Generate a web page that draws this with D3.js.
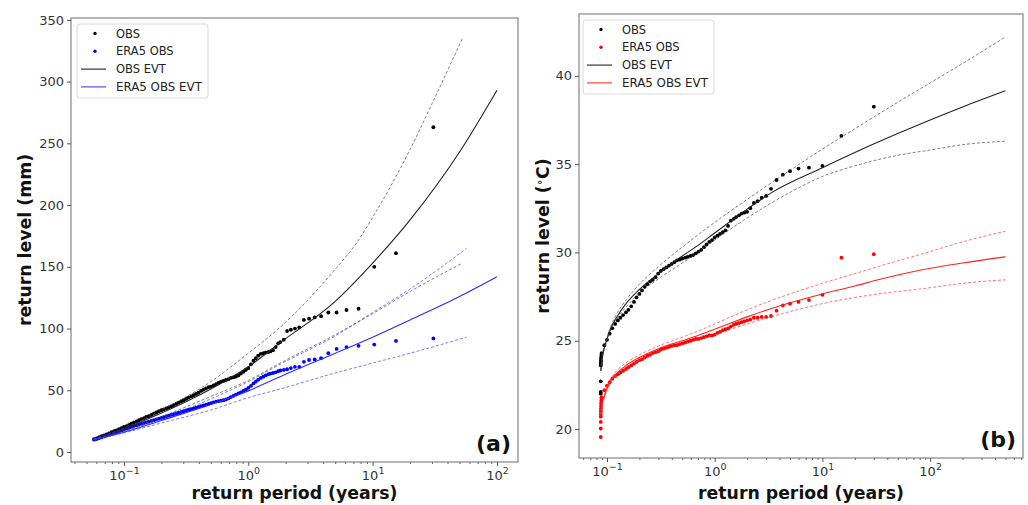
<!DOCTYPE html>
<html><head><meta charset="utf-8">
<script src="https://cdn.jsdelivr.net/npm/d3@7"></script>
<style>body{margin:0;background:#fff}svg{display:block}text{font-family:"DejaVu Sans",sans-serif}</style>
</head><body><svg id="c" width="1028" height="505"></svg>
<script>
// ---------------- Panel (a): precipitation return levels (mm) ----------------
const tA_dense = [0.0575,0.0603,0.0631,0.0661,0.0692,0.0724,0.0759,0.0794,0.0832,0.0871,0.0912,0.0955,
  0.1,0.105,0.110,0.115,0.120,0.126,0.132,0.138,0.145,0.151,0.158,0.166,0.174,0.182,0.191,0.200,0.209,0.219,0.229,0.240,
  0.251,0.263,0.275,0.288,0.302,0.316,0.331,0.347,0.363,0.380,0.398,0.417,0.437,0.457,0.479,0.501,0.525,0.550,0.575,0.603,
  0.631,0.661,0.692,0.724,0.759,0.794,0.832,0.871,0.912,0.955,1.0,1.05,1.10,1.15,1.20,1.26,1.32,1.38,1.45,1.51,1.58,1.66,1.74];
const obsA_dense = [10.5,11,12,12.8,13.5,14.3,15,16,16.8,17.5,18.5,19.3,
  20.3,21,22,23,23.8,24.8,25.7,26.7,27.5,28.5,
  29,30,31,32,33,33.8,34.6,35.3,36.2,37,
  38,39,40,41,42,43,44,45,46,47,
  48,49.5,50.5,51.5,52.5,53,54,55,56,57,
  57.5,58.3,59,60,60.5,61,62,63.5,65,66.5,
  68,71,74,76,78,79.5,80,80.5,81,81.5,82.5,85,88];
const eraA_dense = [10,10.5,11.2,11.9,12.6,13.3,14,14.7,15.4,16.1,16.8,17.5,
  18.2,18.9,19.6,20.3,21,21.6,22.2,22.8,23.4,24,
  24.6,25.2,25.8,26.4,27,27.6,28.2,28.8,29.4,30,
  30.6,31.2,31.8,32.4,33,33.6,34.2,34.8,35.4,36,
  36.6,37.2,37.8,38.4,39,39.6,40.2,40.8,41.2,41.6,
  42,42.5,43.5,44.5,45.5,46.5,47.5,48.3,49.5,50.5,
  52,53.5,55.5,57,58.5,60,61,62,63,63.5,64,64.5,65.5];
const tA_top = [30.8,15.4,10.3,7.7,6.16,5.13,4.4,3.85,3.42,3.08,2.8,2.57,2.37,2.2,2.05,1.93,1.81];
const obsA_top = [263,161,150,116,115,113,113,110,109,108,107,101,100,99,98,91,89];
const eraA_top = [92,90,87,86,85,83.5,80,76,75,74.5,73,69,69,68,67,66.5,66];

const tA_evt      = [0.057,0.1,0.2,0.5,1,1.8,5,10,20,50,100];
const obsEvtA     = [10,18.8,31.5,51,69,88.5,122,153,188,243,293];
const tA_obsCI    = [0.057,0.1,0.2,0.5,1,1.8,5,7.5,10,20,30,52.7];
const obsEvtA_hi  = [10,19.5,34,57,80,101,148,170,190,245,282,335];
const tA_obsCIlo  = [0.057,0.1,0.2,0.5,1,1.8,5,10,20,52.7];
const obsEvtA_lo  = [10,17.5,28.5,45,58,72,95,112,130,153];
const tA_eraEvt   = [0.057,0.1,0.2,0.5,1,1.8,5,10,20,50,100];
const eraEvtA     = [10,16,25.5,38.5,49.5,61,80,93,107,126,142];
const tA_eraCI    = [0.057,0.1,0.2,0.5,1,1.8,5,10,20,57];
const eraEvtA_hi  = [10,16.5,27,43,57,71,94,113,132,165];
const eraEvtA_lo  = [10,15.5,23.5,34,44,51,64,72,80,93];

const xTicksA = [0.1,1,10,100];
const yTicksA = [0,50,100,150,200,250,300,350];

// ---------------- Panel (b): temperature return levels (°C) ----------------
const tB_dense = [0.0891,0.0944,0.1,0.106,0.112,0.119,0.126,0.133,0.141,0.150,0.158,0.168,0.178,0.188,0.200,0.211,0.224,
  0.237,0.251,0.266,0.282,0.299,0.316,0.335,0.355,0.376,0.398,0.422,0.447,0.473,0.501,0.531,0.562,0.596,0.631,0.668,
  0.708,0.750,0.794,0.841,0.891,0.944,1.0,1.06,1.12,1.19,1.26,1.33,1.41,1.50,1.58,1.68,1.78,1.88];
const obsB_dense = [24.3,24.75,25.05,25.4,25.7,25.95,26.15,26.3,26.45,26.6,26.75,26.95,27.2,27.45,27.65,27.85,28.05,
  28.2,28.35,28.45,28.6,28.8,28.95,29.05,29.15,29.25,29.35,29.45,29.55,29.6,29.65,29.7,29.75,29.8,29.85,29.95,
  30.05,30.15,30.3,30.45,30.6,30.7,30.85,30.95,31.05,31.15,31.25,31.5,31.8,31.9,32.0,32.1,32.2,32.25];
const eraB_dense = [21.8,22.2,22.45,22.65,22.85,23.0,23.1,23.2,23.3,23.4,23.5,23.6,23.7,23.8,23.9,23.95,24.05,
  24.15,24.2,24.3,24.35,24.4,24.5,24.55,24.6,24.65,24.7,24.75,24.75,24.8,24.85,24.9,24.95,25.0,25.05,25.1,
  25.1,25.15,25.2,25.25,25.3,25.3,25.35,25.45,25.5,25.6,25.65,25.7,25.8,25.9,25.95,26.0,26.05,26.1];
const tB_top = [30,15,10,7.5,6,5,4.29,3.75,3.33,3.0,2.73,2.5,2.31,2.14,2.0];
const obsB_top = [38.25,36.6,34.9,34.8,34.75,34.6,34.4,34.1,33.6,33.2,33.1,32.9,32.8,32.5,32.3];
const eraB_top = [29.9,29.7,27.6,27.3,27.2,27.1,27.0,26.7,26.4,26.35,26.35,26.3,26.3,26.2,26.15];
const tB_obsLow = [0.0875,0.0875,0.0875,0.0876,0.0877,0.0878,0.0880,0.0882,0.0885,0.0888];
const obsB_low  = [22.0,22.1,22.7,23.6,23.7,23.8,23.9,24.0,24.1,24.2];
const tB_eraLow = [0.0875,0.0875,0.0875,0.0875,0.0876,0.0877,0.0878,0.0880,0.0882,0.0885,0.0888];
const eraB_low  = [19.55,20.03,20.4,20.7,20.85,21.0,21.15,21.3,21.45,21.6,21.7];

const tB_evt     = [0.0875,0.09,0.095,0.1,0.11,0.125,0.15,0.2,0.3,0.5,0.7,1,2,3.4,10,20,50,100,200,500];
const obsEvtB    = [23.3,24.0,24.65,25.1,25.8,26.4,27.1,27.9,28.8,29.8,30.4,31.1,32.45,33.4,34.8,35.66,36.73,37.5,38.24,39.16];
const tB_ci      = [0.0875,0.09,0.095,0.1,0.11,0.125,0.15,0.2,0.3,0.5,0.7,1,2,5,10,20,50,100,200,500];
const obsEvtB_hi = [23.3,24.1,24.75,25.2,25.9,26.6,27.3,28.2,29.2,30.3,31.0,31.7,33.0,34.65,35.85,37.0,38.5,39.6,40.7,42.2];
const obsEvtB_lo = [23.3,23.9,24.55,25.0,25.7,26.3,26.9,27.7,28.5,29.4,30.0,30.7,31.95,33.4,34.3,34.9,35.5,35.8,36.1,36.3];
const tB_eraEvt  = [0.0875,0.09,0.095,0.1,0.11,0.125,0.15,0.2,0.3,0.5,0.7,1,2,5,10,20,33,100,200,500];
const eraEvtB    = [20.8,21.4,21.9,22.3,22.8,23.2,23.6,24.05,24.55,25.0,25.3,25.65,26.35,27.15,27.65,28.1,28.45,29.1,29.4,29.75];
const eraEvtB_hi = [20.8,21.5,22.0,22.4,22.9,23.35,23.75,24.2,24.7,25.2,25.55,25.95,26.75,27.65,28.25,28.8,29.2,30.05,30.6,31.2];
const eraEvtB_lo = [20.8,21.3,21.8,22.2,22.7,23.1,23.5,23.9,24.4,24.8,25.05,25.35,25.95,26.65,27.1,27.45,27.65,28.0,28.25,28.45];

const xTicksB = [0.1,1,10,100];
const yTicksB = [20,25,30,35,40];

const legendLabels = ["OBS","ERA5 OBS","OBS EVT","ERA5 OBS EVT"];

// ---------------- drawing ----------------
const svg = d3.select("#c");
const zip = (xs, ys) => xs.map((v,i)=>[v, ys[i]]);
const supMinus = s => s.replace("-", "\u2212");

function fitText(sel, width){
  const n = sel.node(); const cur = n.getComputedTextLength();
  const fs = parseFloat(sel.attr("font-size"));
  sel.attr("font-size", fs*width/cur);
}

function drawPanel(cfg){
  const g = svg.append("g");
  const x = d3.scaleLog().domain(cfg.xDomain).range([cfg.left, cfg.right]);
  const y = d3.scaleLinear().domain(cfg.yDomain).range([cfg.bottom, cfg.top]);
  const line = d3.line().x(d=>x(d[0])).y(d=>y(d[1])).curve(d3.curveMonotoneX);

  const clipId = "clip"+cfg.id;
  svg.append("clipPath").attr("id", clipId).append("rect")
    .attr("x", cfg.left).attr("y", cfg.top).attr("width", cfg.right-cfg.left).attr("height", cfg.bottom-cfg.top);
  const plot = g.append("g").attr("clip-path", `url(#${clipId})`);

  const drawPts = (pts, color) => plot.append("g").selectAll("circle").data(pts).join("circle")
      .attr("cx", d=>x(d[0])).attr("cy", d=>y(d[1])).attr("r", 1.9).attr("fill", color);
  cfg.obsPts.forEach(p => drawPts(p, "#000"));
  cfg.eraPts.forEach(p => drawPts(p, cfg.eraColor));

  cfg.lines.forEach(L => {
    plot.append("path").attr("d", line(L.data)).attr("fill","none")
      .attr("stroke", L.color).attr("stroke-width", L.dash ? 0.8 : 1.1)
      .attr("stroke-dasharray", L.dash ? "3,2" : null).attr("opacity", L.dash ? 0.85 : 1);
  });

  g.append("rect").attr("x", cfg.left).attr("y", cfg.top).attr("width", cfg.right-cfg.left)
    .attr("height", cfg.bottom-cfg.top).attr("fill","none").attr("stroke","#8e8e8e").attr("stroke-width",1.3);

  const xa = g.append("g").attr("transform", `translate(0,${cfg.bottom})`)
    .call(d3.axisBottom(x).tickValues(cfg.xTicks).tickSize(4).tickSizeOuter(0).tickFormat(""));
  xa.select(".domain").remove();
  xa.selectAll(".tick line").attr("stroke","#555");
  xa.selectAll(".tick").each(function(d){
    const e = Math.round(Math.log10(d));
    const t = d3.select(this).append("text").attr("y", cfg.xLabelY - cfg.bottom).attr("fill","#333")
      .attr("font-size", 13).attr("text-anchor","middle");
    t.append("tspan").text("10");
    t.append("tspan").attr("dy", -6).attr("font-size", 9.5).text(supMinus(String(e)));
  });
  const minors = [];
  const lo = Math.floor(Math.log10(cfg.xDomain[0])), hi = Math.ceil(Math.log10(cfg.xDomain[1]));
  for (let k=lo; k<hi; k++) for (let m=2; m<=9; m++){ const v = m*Math.pow(10,k); if (v>=cfg.xDomain[0] && v<=cfg.xDomain[1]) minors.push(v); }
  const xm = g.append("g").attr("transform", `translate(0,${cfg.bottom})`)
    .call(d3.axisBottom(x).tickValues(minors).tickSize(2).tickSizeOuter(0).tickFormat(""));
  xm.select(".domain").remove();
  xm.selectAll(".tick line").attr("stroke","#666");

  const ya = g.append("g").attr("transform", `translate(${cfg.left},0)`)
    .call(d3.axisLeft(y).tickValues(cfg.yTicks).tickSize(4).tickSizeOuter(0).tickPadding(3).tickFormat(d3.format("d")));
  ya.select(".domain").remove();
  ya.selectAll(".tick line").attr("stroke","#555");
  ya.selectAll(".tick text").attr("font-size", 13).attr("fill","#333").attr("font-family","DejaVu Sans");

  const xl = g.append("text").attr("x", (cfg.left+cfg.right)/2).attr("y", 499).attr("text-anchor","middle")
    .attr("font-weight","bold").attr("font-size", 17).attr("fill","#111").text("return period (years)");
  fitText(xl, 206);
  const yl = g.append("text").attr("transform", `translate(${cfg.yLabelX},${(cfg.top+cfg.bottom)/2}) rotate(-90)`)
    .attr("text-anchor","middle").attr("font-weight","bold").attr("font-size", xl.attr("font-size")).attr("fill","#111");
  cfg.yLabel(yl);

  g.append("text").attr("x", cfg.right-7).attr("y", cfg.bottom-11).attr("text-anchor","end")
    .attr("font-weight","bold").attr("font-size", 22).attr("fill","#111").text(cfg.tag);

  const lg = g.append("g");
  lg.append("rect").attr("x", cfg.legX).attr("y", cfg.legY).attr("width", 131).attr("height", 74).attr("rx", 3)
    .attr("fill","#fff").attr("fill-opacity",0.8).attr("stroke","#d9d9d9").attr("stroke-width",1);
  const colors = ["#000", cfg.eraColor, "#222", cfg.eraLineColor];
  legendLabels.forEach((lab,i) => {
    const cy = cfg.legY + 9.5 + i*17.8;
    if (i < 2) lg.append("circle").attr("cx", cfg.legX+18).attr("cy", cy).attr("r", 1.7).attr("fill", colors[i]);
    else lg.append("line").attr("x1", cfg.legX+4).attr("x2", cfg.legX+29).attr("y1", cy).attr("y2", cy)
      .attr("stroke", colors[i]).attr("stroke-width", 1.1);
    const t = lg.append("text").attr("x", cfg.legX+39).attr("y", cy).attr("dy","0.35em").attr("font-size", 11.5)
      .attr("fill","#222").text(lab);
    if (i === 3) fitText(t, 86);
  });
}

drawPanel({
  id:"a", left:71, right:518, top:18, bottom:462,
  xDomain:[Math.pow(10,-1.426), Math.pow(10,2.169)], yDomain:[-8.1, 351.5],
  xTicks:xTicksA, yTicks:yTicksA, xLabelY:480, yLabelX:31, tag:"(a)",
  eraColor:"#0000ff", eraLineColor:"#3b3bff",
  obsPts:[zip(tA_dense,obsA_dense), zip(tA_top,obsA_top)],
  eraPts:[zip(tA_dense,eraA_dense), zip(tA_top,eraA_top)],
  lines:[
    {data:zip(tA_evt,obsEvtA), color:"#222"},
    {data:zip(tA_obsCI,obsEvtA_hi), color:"#444", dash:true},
    {data:zip(tA_obsCIlo,obsEvtA_lo), color:"#444", dash:true},
    {data:zip(tA_eraEvt,eraEvtA), color:"#2b2bff"},
    {data:zip(tA_eraCI,eraEvtA_hi), color:"#3b3bff", dash:true},
    {data:zip(tA_eraCI,eraEvtA_lo), color:"#3b3bff", dash:true}
  ],
  legX:77, legY:24,
  yLabel: t => t.text("return level (mm)")
});

drawPanel({
  id:"b", left:579, right:1023, top:14, bottom:458,
  xDomain:[Math.pow(10,-1.26), Math.pow(10,2.862)], yDomain:[18.36, 43.5],
  xTicks:xTicksB, yTicks:yTicksB, xLabelY:476, yLabelX:549, tag:"(b)",
  eraColor:"#ff0000", eraLineColor:"#ff3030",
  obsPts:[zip(tB_dense,obsB_dense), zip(tB_top,obsB_top), zip(tB_obsLow,obsB_low)],
  eraPts:[zip(tB_dense,eraB_dense), zip(tB_top,eraB_top), zip(tB_eraLow,eraB_low)],
  lines:[
    {data:zip(tB_evt,obsEvtB), color:"#222"},
    {data:zip(tB_ci,obsEvtB_hi), color:"#444", dash:true},
    {data:zip(tB_ci,obsEvtB_lo), color:"#444", dash:true},
    {data:zip(tB_eraEvt,eraEvtB), color:"#ff2020"},
    {data:zip(tB_eraEvt,eraEvtB_hi), color:"#ff3030", dash:true},
    {data:zip(tB_eraEvt,eraEvtB_lo), color:"#ff3030", dash:true}
  ],
  legX:583, legY:20,
  yLabel: t => { t.append("tspan").text("return level ("); t.append("tspan").attr("dy",-6).attr("font-size","0.6em").text("\u2218");
                 t.append("tspan").attr("dy",6).text("C)"); }
});
</script></body></html>
